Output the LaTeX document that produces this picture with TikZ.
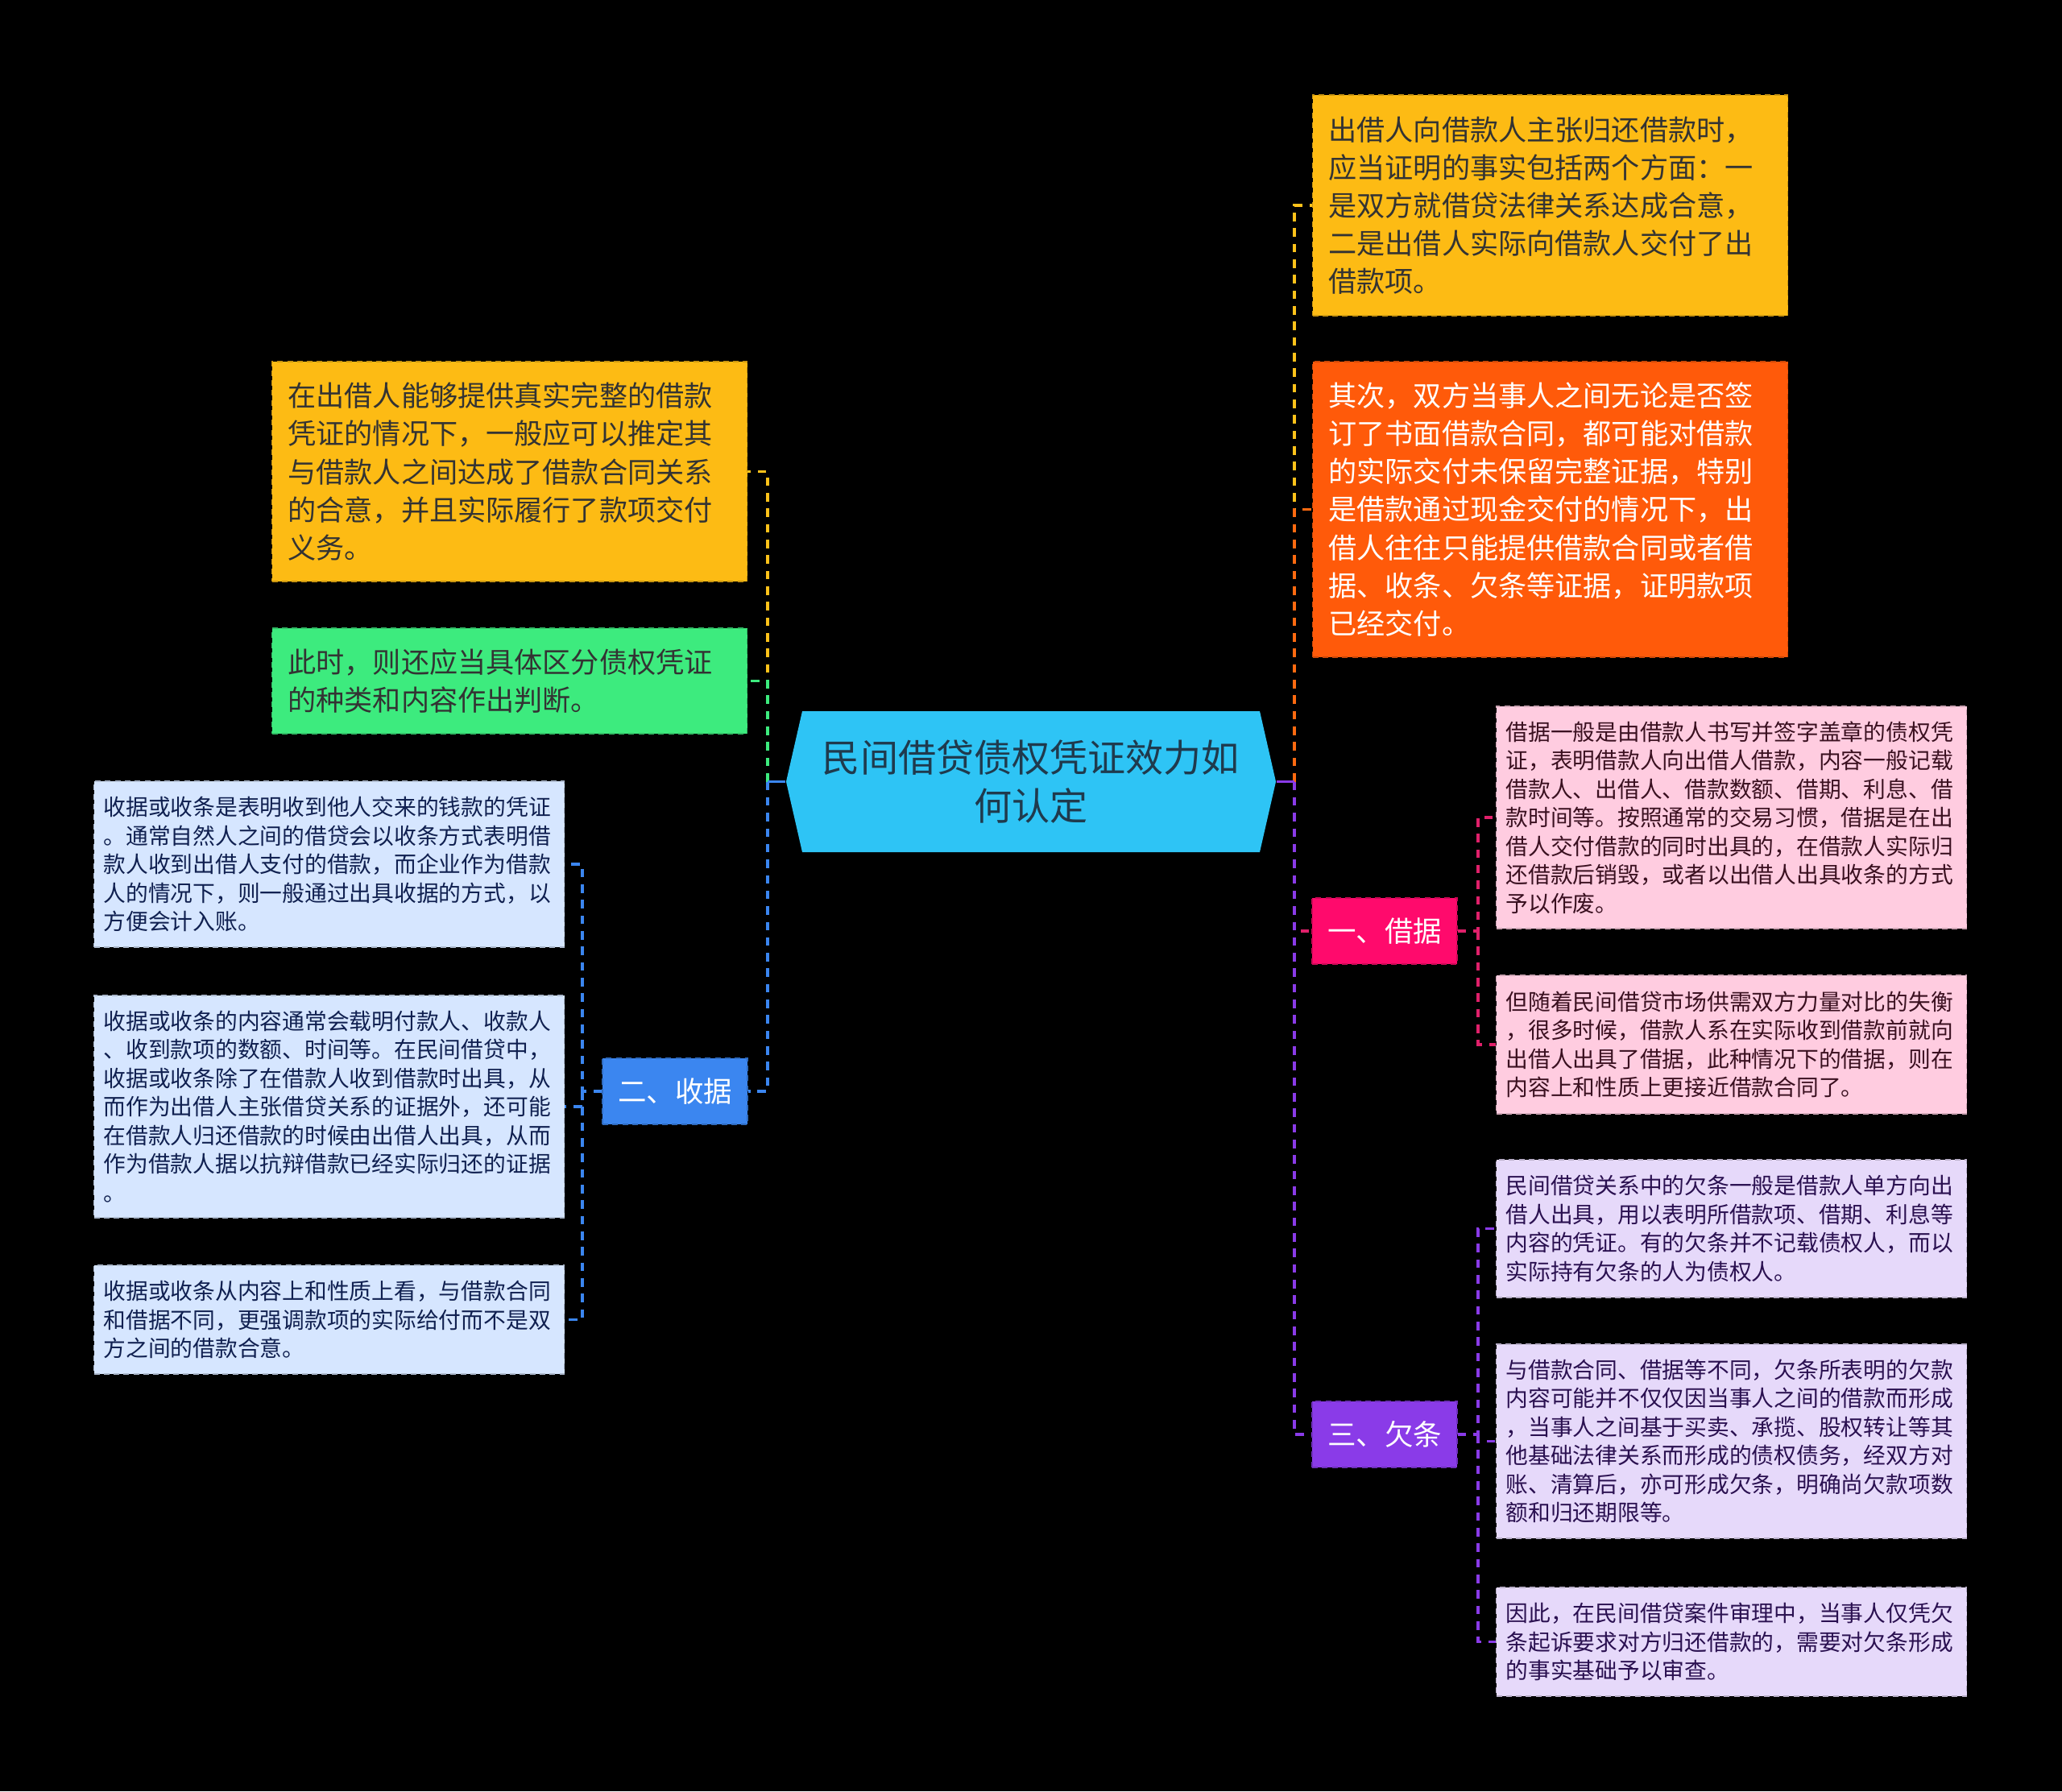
\documentclass[tikz,border=0pt]{standalone}
\usepackage{fontspec}
\setmainfont{Noto Sans CJK SC}
\usepackage{xcolor}
\usepackage{tikz}

\definecolor{rootblue}{HTML}{2EC4F5}
\definecolor{boxyellow}{HTML}{FDBB14}
\definecolor{boxorange}{HTML}{FF5A0A}
\definecolor{boxgreen}{HTML}{3DEB7E}
\definecolor{tagpink}{HTML}{FF0A6C}
\definecolor{tagpurple}{HTML}{8A3BE8}
\definecolor{tagblue}{HTML}{3B86F0}
\definecolor{boxpink}{HTML}{FFCCE0}
\definecolor{boxlilac}{HTML}{E6D9FA}
\definecolor{boxsky}{HTML}{D6E6FF}
\definecolor{textdark}{HTML}{333333}
\definecolor{textroot}{HTML}{1F3A4D}
\definecolor{textwine}{HTML}{3A1020}
\definecolor{textplum}{HTML}{2A1050}
\definecolor{textnavy}{HTML}{102050}
\definecolor{lineyellow}{HTML}{FFC21A}
\definecolor{lineorange}{HTML}{FF6A10}
\definecolor{linegreen}{HTML}{3DEB7E}
\definecolor{linepink}{HTML}{E0206A}
\definecolor{linepurple}{HTML}{8A3BE8}
\definecolor{lineblue}{HTML}{3B86F0}

\begin{document}
\begin{tikzpicture}[
    box/.style={rectangle, fill=#1, draw=#1!80!black, dash pattern=on 2pt off 1.5pt, line width=0.5pt, align=left, inner ysep=0.1cm},
    bigbox/.style={box=#1, inner xsep=0.2cm, text width=5.5cm, font=\fontsize{10pt}{13.4pt}\selectfont},
    smallbox/.style={box=#1, inner xsep=0.12cm, text width=5.6cm, font=\fontsize{7.9pt}{10.1pt}\selectfont},
    tag/.style={box=#1, align=center, text=white, minimum width=1.8cm, minimum height=0.82cm, inner xsep=0.1cm, font=\fontsize{10.1pt}{12pt}\selectfont},
    link/.style={dash pattern=on 3pt off 2.5pt, line width=0.9pt},
    stem/.style={line width=0.9pt}
  ]
    % Background and page size
    \fill[black] (0,0) rectangle (25.6,-22.24);
    \useasboundingbox (0,0) rectangle (25.6,-22.24);

    % Define coordinates for the root hexagon
    \coordinate (root left tip) at (9.76,-9.705);
    \coordinate (root top left) at (9.96,-8.83);
    \coordinate (root top right) at (15.64,-8.83);
    \coordinate (root right tip) at (15.84,-9.705);
    \coordinate (root bottom right) at (15.64,-10.58);
    \coordinate (root bottom left) at (9.96,-10.58);

    % Define coordinates for the trunks
    \coordinate (left trunk) at (9.53,-9.705);
    \coordinate (right trunk) at (16.07,-9.705);
    \coordinate (jieju trunk) at (18.35,-11.56);
    \coordinate (qiantiao trunk) at (18.35,-17.81);
    \coordinate (shouju trunk) at (7.23,-13.55);

    % Root
    \fill[rootblue] (root left tip) -- (root top left) -- (root top right) -- (root right tip) -- (root bottom right) -- (root bottom left) -- cycle;
    \node[minimum width=6.08cm, minimum height=1.75cm, align=center, text=textroot, font=\fontsize{13.4pt}{17.2pt}\selectfont] (root) at (12.8,-9.705) {民间借贷债权凭证效力如\\何认定};

    % Right side
    \node[bigbox=boxyellow, text=textdark, minimum height=2.74cm] (rb1) at (19.245,-2.55) {出借人向借款人主张归还借款时，\\应当证明的事实包括两个方面：一\\是双方就借贷法律关系达成合意，\\二是出借人实际向借款人交付了出\\借款项。};
    \node[bigbox=boxorange, text=white, minimum height=3.67cm] (rb2) at (19.245,-6.325) {其次，双方当事人之间无论是否签\\订了书面借款合同，都可能对借款\\的实际交付未保留完整证据，特别\\是借款通过现金交付的情况下，出\\借人往往只能提供借款合同或者借\\据、收条、欠条等证据，证明款项\\已经交付。};
    \node[tag=tagpink] (jieju) at (17.19,-11.56) {一、借据};
    \node[smallbox=boxpink, text=textwine, minimum height=2.76cm] (jj1) at (21.495,-10.15) {借据一般是由借款人书写并签字盖章的债权凭\\证，表明借款人向出借人借款，内容一般记载\\借款人、出借人、借款数额、借期、利息、借\\款时间等。按照通常的交易习惯，借据是在出\\借人交付借款的同时出具的，在借款人实际归\\还借款后销毁，或者以出借人出具收条的方式\\予以作废。};
    \node[smallbox=boxpink, text=textwine, minimum height=1.72cm] (jj2) at (21.495,-12.97) {但随着民间借贷市场供需双方力量对比的失衡\\，很多时候，借款人系在实际收到借款前就向\\出借人出具了借据，此种情况下的借据，则在\\内容上和性质上更接近借款合同了。};
    \node[tag=tagpurple] (qiantiao) at (17.19,-17.81) {三、欠条};
    \node[smallbox=boxlilac, text=textplum, minimum height=1.71cm] (qt1) at (21.495,-15.255) {民间借贷关系中的欠条一般是借款人单方向出\\借人出具，用以表明所借款项、借期、利息等\\内容的凭证。有的欠条并不记载债权人，而以\\实际持有欠条的人为债权人。};
    \node[smallbox=boxlilac, text=textplum, minimum height=2.41cm] (qt2) at (21.495,-17.895) {与借款合同、借据等不同，欠条所表明的欠款\\内容可能并不仅仅因当事人之间的借款而形成\\，当事人之间基于买卖、承揽、股权转让等其\\他基础法律关系而形成的债权债务，经双方对\\账、清算后，亦可形成欠条，明确尚欠款项数\\额和归还期限等。};
    \node[smallbox=boxlilac, text=textplum, minimum height=1.35cm] (qt3) at (21.495,-20.385) {因此，在民间借贷案件审理中，当事人仅凭欠\\条起诉要求对方归还借款的，需要对欠条形成\\的事实基础予以审查。};

    % Left side
    \node[bigbox=boxyellow, text=textdark, minimum height=2.73cm] (lb1) at (6.325,-5.855) {在出借人能够提供真实完整的借款\\凭证的情况下，一般应可以推定其\\与借款人之间达成了借款合同关系\\的合意，并且实际履行了款项交付\\义务。};
    \node[bigbox=boxgreen, text=textdark, minimum height=1.31cm] (lb2) at (6.325,-8.455) {此时，则还应当具体区分债权凭证\\的种类和内容作出判断。};
    \node[tag=tagblue] (shouju) at (8.38,-13.55) {二、收据};
    \node[smallbox=boxsky, text=textnavy, minimum height=2.06cm] (sj1) at (4.085,-10.73) {收据或收条是表明收到他人交来的钱款的凭证\\。通常自然人之间的借贷会以收条方式表明借\\款人收到出借人支付的借款，而企业作为借款\\人的情况下，则一般通过出具收据的方式，以\\方便会计入账。};
    \node[smallbox=boxsky, text=textnavy, minimum height=2.76cm] (sj2) at (4.085,-13.74) {收据或收条的内容通常会载明付款人、收款人\\、收到款项的数额、时间等。在民间借贷中，\\收据或收条除了在借款人收到借款时出具，从\\而作为出借人主张借贷关系的证据外，还可能\\在借款人归还借款的时候由出借人出具，从而\\作为借款人据以抗辩借款已经实际归还的证据\\。};
    \node[smallbox=boxsky, text=textnavy, minimum height=1.35cm] (sj3) at (4.085,-16.385) {收据或收条从内容上和性质上看，与借款合同\\和借据不同，更强调款项的实际给付而不是双\\方之间的借款合意。};

    % Connectors, right
    \draw[link, lineyellow] (right trunk) |- (rb1.west);
    \draw[link, lineorange] (right trunk) |- (rb2.west);
    \draw[link, linepink] (right trunk) |- (jieju.west);
    \draw[link, linepurple] (right trunk) |- (qiantiao.west);
    \draw[stem, linepurple] (root.east) -- (right trunk);
    \draw[link, linepink] (jieju.east) -- (jieju trunk) |- (jj1.west);
    \draw[link, linepink] (jieju trunk) |- (jj2.west);
    \draw[link, linepurple] (qiantiao.east) -- (qiantiao trunk) |- (qt1.west);
    \draw[link, linepurple] (qiantiao trunk) |- (qt2.west);
    \draw[link, linepurple] (qiantiao trunk) |- (qt3.west);

    % Connectors, left
    \draw[link, lineyellow] (left trunk) |- (lb1.east);
    \draw[link, linegreen] (left trunk) |- (lb2.east);
    \draw[link, lineblue] (left trunk) |- (shouju.east);
    \draw[stem, lineblue] (root.west) -- (left trunk);
    \draw[link, lineblue] (shouju.west) -- (shouju trunk) |- (sj1.east);
    \draw[link, lineblue] (shouju trunk) |- (sj2.east);
    \draw[link, lineblue] (shouju trunk) |- (sj3.east);
\end{tikzpicture}
\end{document}
